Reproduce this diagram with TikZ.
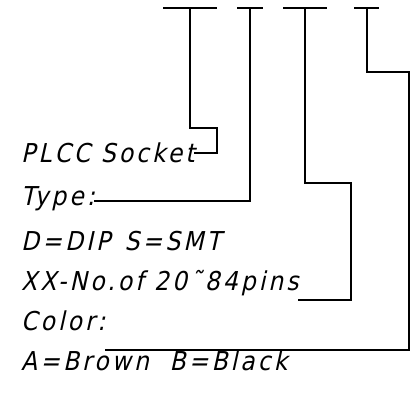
\documentclass[tikz,border=0pt]{standalone}
\usepackage{fontspec}
\setmainfont{DejaVu Sans Condensed}[FakeSlant=0.22, LetterSpace=12]
\usepackage{tikz}
\usetikzlibrary{calc}

\begin{document}
\begin{tikzpicture}[
    x=1pt, y=-1pt,
    label/.style={anchor=base west, inner sep=0pt, font=\fontsize{26}{30}\selectfont},
    lead/.style={line width=1.3pt, line cap=rect},
    bar/.style={line width=1.3pt}
]
    \useasboundingbox (0,0) rectangle (413,418);

    % code positions along the top
    \coordinate (p1) at (190,8);
    \coordinate (p2) at (250,8);
    \coordinate (p3) at (305,8);
    \coordinate (p4) at (367,8);
    \draw[bar] (163,8) -- (217,8);
    \draw[bar] (237,8) -- (263,8);
    \draw[bar] (283,8) -- (327,8);
    \draw[bar] (354,8) -- (379,8);

    % text lines
    \node[label] (socket) at (21,162) {PLCC Socket};
    \node[label] (type) at (21,205) {Type:};
    \node[label] (dip) at (21,250) {D=DIP\hspace{0.55em}S=SMT};
    \node[label] (pins) at (21,290) {XX-No.of 20˜84pins};
    \node[label] (color) at (21,330) {Color:};
    \node[label] (brown) at (21,370) {A=Brown\hspace{0.8em}B=Black};

    % leaders from texts to positions
    \draw[lead] (socket.east |- 0,153) -- (217,153) -- (217,128) -- (p1 |- 0,128) -- (p1);
    \draw[lead] (type.east |- 0,201) -- (p2 |- 0,201) -- (p2);
    \draw[lead] (pins.east |- 0,300) -- (351,300) -- (351,183) -- (p3 |- 0,183) -- (p3);
    \draw[lead] (color.east |- 0,350) -- (409,350) -- (409,72) -- (p4 |- 0,72) -- (p4);
\end{tikzpicture}
\end{document}
